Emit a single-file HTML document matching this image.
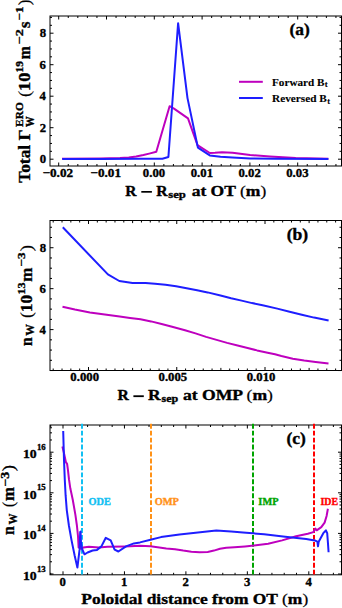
<!DOCTYPE html>
<html><head><meta charset="utf-8"><style>
html,body{margin:0;padding:0;background:#fff;width:342px;height:608px;overflow:hidden}
svg{display:block}
text{font-family:"Liberation Serif", serif;font-weight:bold;stroke-width:0.35px}
</style></head><body>
<svg width="342" height="608" viewBox="0 0 342 608">
<rect width="342" height="608" fill="#fff"/>
<rect x="50" y="16" width="291.5" height="150" fill="none" stroke="#000" stroke-width="1"/>
<line x1="58.7" y1="166" x2="58.7" y2="162.5" stroke="#000" stroke-width="1" />
<line x1="58.7" y1="16" x2="58.7" y2="19.5" stroke="#000" stroke-width="1" />
<line x1="68.26" y1="166" x2="68.26" y2="164" stroke="#000" stroke-width="1" />
<line x1="68.26" y1="16" x2="68.26" y2="18" stroke="#000" stroke-width="1" />
<line x1="77.82" y1="166" x2="77.82" y2="164" stroke="#000" stroke-width="1" />
<line x1="77.82" y1="16" x2="77.82" y2="18" stroke="#000" stroke-width="1" />
<line x1="87.38" y1="166" x2="87.38" y2="164" stroke="#000" stroke-width="1" />
<line x1="87.38" y1="16" x2="87.38" y2="18" stroke="#000" stroke-width="1" />
<line x1="96.94" y1="166" x2="96.94" y2="164" stroke="#000" stroke-width="1" />
<line x1="96.94" y1="16" x2="96.94" y2="18" stroke="#000" stroke-width="1" />
<line x1="106.5" y1="166" x2="106.5" y2="162.5" stroke="#000" stroke-width="1" />
<line x1="106.5" y1="16" x2="106.5" y2="19.5" stroke="#000" stroke-width="1" />
<line x1="116.06" y1="166" x2="116.06" y2="164" stroke="#000" stroke-width="1" />
<line x1="116.06" y1="16" x2="116.06" y2="18" stroke="#000" stroke-width="1" />
<line x1="125.62" y1="166" x2="125.62" y2="164" stroke="#000" stroke-width="1" />
<line x1="125.62" y1="16" x2="125.62" y2="18" stroke="#000" stroke-width="1" />
<line x1="135.18" y1="166" x2="135.18" y2="164" stroke="#000" stroke-width="1" />
<line x1="135.18" y1="16" x2="135.18" y2="18" stroke="#000" stroke-width="1" />
<line x1="144.74" y1="166" x2="144.74" y2="164" stroke="#000" stroke-width="1" />
<line x1="144.74" y1="16" x2="144.74" y2="18" stroke="#000" stroke-width="1" />
<line x1="154.3" y1="166" x2="154.3" y2="162.5" stroke="#000" stroke-width="1" />
<line x1="154.3" y1="16" x2="154.3" y2="19.5" stroke="#000" stroke-width="1" />
<line x1="163.86" y1="166" x2="163.86" y2="164" stroke="#000" stroke-width="1" />
<line x1="163.86" y1="16" x2="163.86" y2="18" stroke="#000" stroke-width="1" />
<line x1="173.42" y1="166" x2="173.42" y2="164" stroke="#000" stroke-width="1" />
<line x1="173.42" y1="16" x2="173.42" y2="18" stroke="#000" stroke-width="1" />
<line x1="182.98" y1="166" x2="182.98" y2="164" stroke="#000" stroke-width="1" />
<line x1="182.98" y1="16" x2="182.98" y2="18" stroke="#000" stroke-width="1" />
<line x1="192.54" y1="166" x2="192.54" y2="164" stroke="#000" stroke-width="1" />
<line x1="192.54" y1="16" x2="192.54" y2="18" stroke="#000" stroke-width="1" />
<line x1="202.1" y1="166" x2="202.1" y2="162.5" stroke="#000" stroke-width="1" />
<line x1="202.1" y1="16" x2="202.1" y2="19.5" stroke="#000" stroke-width="1" />
<line x1="211.66" y1="166" x2="211.66" y2="164" stroke="#000" stroke-width="1" />
<line x1="211.66" y1="16" x2="211.66" y2="18" stroke="#000" stroke-width="1" />
<line x1="221.22" y1="166" x2="221.22" y2="164" stroke="#000" stroke-width="1" />
<line x1="221.22" y1="16" x2="221.22" y2="18" stroke="#000" stroke-width="1" />
<line x1="230.78" y1="166" x2="230.78" y2="164" stroke="#000" stroke-width="1" />
<line x1="230.78" y1="16" x2="230.78" y2="18" stroke="#000" stroke-width="1" />
<line x1="240.34" y1="166" x2="240.34" y2="164" stroke="#000" stroke-width="1" />
<line x1="240.34" y1="16" x2="240.34" y2="18" stroke="#000" stroke-width="1" />
<line x1="249.9" y1="166" x2="249.9" y2="162.5" stroke="#000" stroke-width="1" />
<line x1="249.9" y1="16" x2="249.9" y2="19.5" stroke="#000" stroke-width="1" />
<line x1="259.46" y1="166" x2="259.46" y2="164" stroke="#000" stroke-width="1" />
<line x1="259.46" y1="16" x2="259.46" y2="18" stroke="#000" stroke-width="1" />
<line x1="269.02" y1="166" x2="269.02" y2="164" stroke="#000" stroke-width="1" />
<line x1="269.02" y1="16" x2="269.02" y2="18" stroke="#000" stroke-width="1" />
<line x1="278.58" y1="166" x2="278.58" y2="164" stroke="#000" stroke-width="1" />
<line x1="278.58" y1="16" x2="278.58" y2="18" stroke="#000" stroke-width="1" />
<line x1="288.14" y1="166" x2="288.14" y2="164" stroke="#000" stroke-width="1" />
<line x1="288.14" y1="16" x2="288.14" y2="18" stroke="#000" stroke-width="1" />
<line x1="297.7" y1="166" x2="297.7" y2="162.5" stroke="#000" stroke-width="1" />
<line x1="297.7" y1="16" x2="297.7" y2="19.5" stroke="#000" stroke-width="1" />
<line x1="307.26" y1="166" x2="307.26" y2="164" stroke="#000" stroke-width="1" />
<line x1="307.26" y1="16" x2="307.26" y2="18" stroke="#000" stroke-width="1" />
<line x1="316.82" y1="166" x2="316.82" y2="164" stroke="#000" stroke-width="1" />
<line x1="316.82" y1="16" x2="316.82" y2="18" stroke="#000" stroke-width="1" />
<line x1="326.38" y1="166" x2="326.38" y2="164" stroke="#000" stroke-width="1" />
<line x1="326.38" y1="16" x2="326.38" y2="18" stroke="#000" stroke-width="1" />
<line x1="335.94" y1="166" x2="335.94" y2="164" stroke="#000" stroke-width="1" />
<line x1="335.94" y1="16" x2="335.94" y2="18" stroke="#000" stroke-width="1" />
<line x1="50" y1="159.2" x2="53.5" y2="159.2" stroke="#000" stroke-width="1" />
<line x1="341.5" y1="159.2" x2="338" y2="159.2" stroke="#000" stroke-width="1" />
<line x1="50" y1="151.32" x2="52" y2="151.32" stroke="#000" stroke-width="1" />
<line x1="341.5" y1="151.32" x2="339.5" y2="151.32" stroke="#000" stroke-width="1" />
<line x1="50" y1="143.45" x2="52" y2="143.45" stroke="#000" stroke-width="1" />
<line x1="341.5" y1="143.45" x2="339.5" y2="143.45" stroke="#000" stroke-width="1" />
<line x1="50" y1="135.57" x2="52" y2="135.57" stroke="#000" stroke-width="1" />
<line x1="341.5" y1="135.57" x2="339.5" y2="135.57" stroke="#000" stroke-width="1" />
<line x1="50" y1="127.7" x2="53.5" y2="127.7" stroke="#000" stroke-width="1" />
<line x1="341.5" y1="127.7" x2="338" y2="127.7" stroke="#000" stroke-width="1" />
<line x1="50" y1="119.82" x2="52" y2="119.82" stroke="#000" stroke-width="1" />
<line x1="341.5" y1="119.82" x2="339.5" y2="119.82" stroke="#000" stroke-width="1" />
<line x1="50" y1="111.95" x2="52" y2="111.95" stroke="#000" stroke-width="1" />
<line x1="341.5" y1="111.95" x2="339.5" y2="111.95" stroke="#000" stroke-width="1" />
<line x1="50" y1="104.07" x2="52" y2="104.07" stroke="#000" stroke-width="1" />
<line x1="341.5" y1="104.07" x2="339.5" y2="104.07" stroke="#000" stroke-width="1" />
<line x1="50" y1="96.2" x2="53.5" y2="96.2" stroke="#000" stroke-width="1" />
<line x1="341.5" y1="96.2" x2="338" y2="96.2" stroke="#000" stroke-width="1" />
<line x1="50" y1="88.32" x2="52" y2="88.32" stroke="#000" stroke-width="1" />
<line x1="341.5" y1="88.32" x2="339.5" y2="88.32" stroke="#000" stroke-width="1" />
<line x1="50" y1="80.45" x2="52" y2="80.45" stroke="#000" stroke-width="1" />
<line x1="341.5" y1="80.45" x2="339.5" y2="80.45" stroke="#000" stroke-width="1" />
<line x1="50" y1="72.57" x2="52" y2="72.57" stroke="#000" stroke-width="1" />
<line x1="341.5" y1="72.57" x2="339.5" y2="72.57" stroke="#000" stroke-width="1" />
<line x1="50" y1="64.7" x2="53.5" y2="64.7" stroke="#000" stroke-width="1" />
<line x1="341.5" y1="64.7" x2="338" y2="64.7" stroke="#000" stroke-width="1" />
<line x1="50" y1="56.82" x2="52" y2="56.82" stroke="#000" stroke-width="1" />
<line x1="341.5" y1="56.82" x2="339.5" y2="56.82" stroke="#000" stroke-width="1" />
<line x1="50" y1="48.95" x2="52" y2="48.95" stroke="#000" stroke-width="1" />
<line x1="341.5" y1="48.95" x2="339.5" y2="48.95" stroke="#000" stroke-width="1" />
<line x1="50" y1="41.07" x2="52" y2="41.07" stroke="#000" stroke-width="1" />
<line x1="341.5" y1="41.07" x2="339.5" y2="41.07" stroke="#000" stroke-width="1" />
<line x1="50" y1="33.2" x2="53.5" y2="33.2" stroke="#000" stroke-width="1" />
<line x1="341.5" y1="33.2" x2="338" y2="33.2" stroke="#000" stroke-width="1" />
<line x1="50" y1="25.32" x2="52" y2="25.32" stroke="#000" stroke-width="1" />
<line x1="341.5" y1="25.32" x2="339.5" y2="25.32" stroke="#000" stroke-width="1" />
<line x1="50" y1="17.45" x2="52" y2="17.45" stroke="#000" stroke-width="1" />
<line x1="341.5" y1="17.45" x2="339.5" y2="17.45" stroke="#000" stroke-width="1" />
<text transform="translate(39.7,163.1) scale(1.0300,1)" font-size="12.4" fill="#000" stroke="#000" >0</text>
<text transform="translate(39.76,131.6) scale(1.0300,1)" font-size="12.4" fill="#000" stroke="#000" >2</text>
<text transform="translate(39.45,100.1) scale(1.0300,1)" font-size="12.4" fill="#000" stroke="#000" >4</text>
<text transform="translate(39.59,68.6) scale(1.0300,1)" font-size="12.4" fill="#000" stroke="#000" >6</text>
<text transform="translate(39.64,37.1) scale(1.0300,1)" font-size="12.4" fill="#000" stroke="#000" >8</text>
<text transform="translate(42.5,176.8) scale(1.0663,1)" font-size="12.4" fill="#000" stroke="#000" >−0.02</text>
<text transform="translate(90.36,176.8) scale(1.0664,1)" font-size="12.4" fill="#000" stroke="#000" >−0.01</text>
<text transform="translate(142.82,176.8) scale(1.0300,1)" font-size="12.4" fill="#000" stroke="#000" >0.00</text>
<text transform="translate(190.71,176.8) scale(1.0300,1)" font-size="12.4" fill="#000" stroke="#000" >0.01</text>
<text transform="translate(238.46,176.8) scale(1.0300,1)" font-size="12.4" fill="#000" stroke="#000" >0.02</text>
<text transform="translate(286.2,176.8) scale(1.0300,1)" font-size="12.4" fill="#000" stroke="#000" >0.03</text>
<polyline points="62,158.8 100,158.6 120,158.1 128.8,157.6 136.1,156.5 143.4,155 149.2,153.6 156.3,151.8 169.6,106.2 174,108.6 188,118.4 197.5,145.1 209.8,153 215,152.8 222,152.3 232.5,152.8 250.1,155 270,156.5 295.7,158 328.4,158.8" fill="none" stroke="#BE00BE" stroke-width="2" stroke-linejoin="round" stroke-linecap="butt"/>
<polyline points="62.3,158.9 100,158.9 140,158.8 162.4,158.7 168.4,157 178.1,23.2 187.5,98.1 197.9,147.6 209.8,155.4 220.5,156.8 232.5,157.6 250.1,158.4 275,158.8 328.4,159" fill="none" stroke="#1E1EFF" stroke-width="2" stroke-linejoin="round" stroke-linecap="butt"/>
<line x1="239" y1="81.8" x2="262.8" y2="81.8" stroke="#BE00BE" stroke-width="2" />
<line x1="239" y1="98" x2="262.8" y2="98" stroke="#1E1EFF" stroke-width="2" />
<text transform="translate(272.01,85.6) scale(1.0006,1)" font-size="11.2" fill="#000" stroke="#000" style="stroke-width:0.1px">Forward B</text>
<text transform="translate(324.76,87.4) scale(1.0286,1)" font-size="8.4" fill="#000" stroke="#000" style="stroke-width:0.1px">t</text>
<text transform="translate(272.01,101.9) scale(1.0069,1)" font-size="11.2" fill="#000" stroke="#000" style="stroke-width:0.1px">Reversed B</text>
<text transform="translate(327.27,103.5) scale(0.9905,1)" font-size="8.4" fill="#000" stroke="#000" style="stroke-width:0.1px">t</text>
<text transform="translate(289.43,35.3) scale(1.0899,1)" font-size="16" fill="#000" stroke="#000" >(a)</text>
<text transform="translate(125.33,196.3) scale(1.0163,1)" font-size="15.3" fill="#000" stroke="#000" >R</text>
<rect x="141.3" y="191" width="10.6" height="1.7" fill="#000"/>
<text transform="translate(156.13,196.3) scale(1.0254,1)" font-size="15.3" fill="#000" stroke="#000" >R</text>
<text transform="translate(168.22,198.3) scale(1.1729,1)" font-size="10.8" fill="#000" stroke="#000" >sep</text>
<text transform="translate(191.64,196.3) scale(1.1452,1)" font-size="15.3" fill="#000" stroke="#000" >at OT <tspan font-weight="normal" stroke-width="0.2">(</tspan>m<tspan font-weight="normal" stroke-width="0.2">)</tspan></text>
<text transform="translate(30.2,182.77) rotate(-90) scale(1.0455,1)" font-size="16.6" fill="#000" stroke="#000">Total Γ</text>
<text transform="translate(23.3,127) rotate(-90) scale(1.0062,1)" font-size="11.4" fill="#000" stroke="#000">ERO</text>
<text transform="translate(34.3,126.95) rotate(-90) scale(0.9084,1)" font-size="11.8" fill="#000" stroke="#000">W</text>
<text transform="translate(30.2,97.11) rotate(-90) scale(1.1076,1)" font-size="16.6" fill="#000" stroke="#000"><tspan font-weight="normal" stroke-width="0.2">(</tspan>10</text>
<text transform="translate(23.3,72.62) rotate(-90) scale(1.0124,1)" font-size="11.4" fill="#000" stroke="#000">19</text>
<text transform="translate(30.2,59.32) rotate(-90) scale(0.9390,1)" font-size="16.6" fill="#000" stroke="#000">m</text>
<text transform="translate(23.3,44.25) rotate(-90) scale(1.2427,1)" font-size="11.4" fill="#000" stroke="#000">−2</text>
<text transform="translate(30.2,28.11) rotate(-90) scale(1.0086,1)" font-size="16.6" fill="#000" stroke="#000">s</text>
<text transform="translate(23.3,20.17) rotate(-90) scale(1.1177,1)" font-size="11.4" fill="#000" stroke="#000">−1</text>
<text transform="translate(30.2,5.14) rotate(-90) scale(1.0086,1)" font-size="16.6" fill="#000" stroke="#000"><tspan font-weight="normal" stroke-width="0.2">)</tspan></text>
<rect x="50" y="220.5" width="291.5" height="150" fill="none" stroke="#000" stroke-width="1"/>
<line x1="53.2" y1="370.5" x2="53.2" y2="368.5" stroke="#000" stroke-width="1" />
<line x1="53.2" y1="220.5" x2="53.2" y2="222.5" stroke="#000" stroke-width="1" />
<line x1="62.02" y1="370.5" x2="62.02" y2="368.5" stroke="#000" stroke-width="1" />
<line x1="62.02" y1="220.5" x2="62.02" y2="222.5" stroke="#000" stroke-width="1" />
<line x1="70.85" y1="370.5" x2="70.85" y2="368.5" stroke="#000" stroke-width="1" />
<line x1="70.85" y1="220.5" x2="70.85" y2="222.5" stroke="#000" stroke-width="1" />
<line x1="79.67" y1="370.5" x2="79.67" y2="368.5" stroke="#000" stroke-width="1" />
<line x1="79.67" y1="220.5" x2="79.67" y2="222.5" stroke="#000" stroke-width="1" />
<line x1="88.5" y1="370.5" x2="88.5" y2="367" stroke="#000" stroke-width="1" />
<line x1="88.5" y1="220.5" x2="88.5" y2="224" stroke="#000" stroke-width="1" />
<line x1="97.33" y1="370.5" x2="97.33" y2="368.5" stroke="#000" stroke-width="1" />
<line x1="97.33" y1="220.5" x2="97.33" y2="222.5" stroke="#000" stroke-width="1" />
<line x1="106.15" y1="370.5" x2="106.15" y2="368.5" stroke="#000" stroke-width="1" />
<line x1="106.15" y1="220.5" x2="106.15" y2="222.5" stroke="#000" stroke-width="1" />
<line x1="114.97" y1="370.5" x2="114.97" y2="368.5" stroke="#000" stroke-width="1" />
<line x1="114.97" y1="220.5" x2="114.97" y2="222.5" stroke="#000" stroke-width="1" />
<line x1="123.8" y1="370.5" x2="123.8" y2="368.5" stroke="#000" stroke-width="1" />
<line x1="123.8" y1="220.5" x2="123.8" y2="222.5" stroke="#000" stroke-width="1" />
<line x1="132.62" y1="370.5" x2="132.62" y2="367.9" stroke="#000" stroke-width="1" />
<line x1="132.62" y1="220.5" x2="132.62" y2="223.1" stroke="#000" stroke-width="1" />
<line x1="141.45" y1="370.5" x2="141.45" y2="368.5" stroke="#000" stroke-width="1" />
<line x1="141.45" y1="220.5" x2="141.45" y2="222.5" stroke="#000" stroke-width="1" />
<line x1="150.28" y1="370.5" x2="150.28" y2="368.5" stroke="#000" stroke-width="1" />
<line x1="150.28" y1="220.5" x2="150.28" y2="222.5" stroke="#000" stroke-width="1" />
<line x1="159.1" y1="370.5" x2="159.1" y2="368.5" stroke="#000" stroke-width="1" />
<line x1="159.1" y1="220.5" x2="159.1" y2="222.5" stroke="#000" stroke-width="1" />
<line x1="167.93" y1="370.5" x2="167.93" y2="368.5" stroke="#000" stroke-width="1" />
<line x1="167.93" y1="220.5" x2="167.93" y2="222.5" stroke="#000" stroke-width="1" />
<line x1="176.75" y1="370.5" x2="176.75" y2="367" stroke="#000" stroke-width="1" />
<line x1="176.75" y1="220.5" x2="176.75" y2="224" stroke="#000" stroke-width="1" />
<line x1="185.57" y1="370.5" x2="185.57" y2="368.5" stroke="#000" stroke-width="1" />
<line x1="185.57" y1="220.5" x2="185.57" y2="222.5" stroke="#000" stroke-width="1" />
<line x1="194.4" y1="370.5" x2="194.4" y2="368.5" stroke="#000" stroke-width="1" />
<line x1="194.4" y1="220.5" x2="194.4" y2="222.5" stroke="#000" stroke-width="1" />
<line x1="203.23" y1="370.5" x2="203.23" y2="368.5" stroke="#000" stroke-width="1" />
<line x1="203.23" y1="220.5" x2="203.23" y2="222.5" stroke="#000" stroke-width="1" />
<line x1="212.05" y1="370.5" x2="212.05" y2="368.5" stroke="#000" stroke-width="1" />
<line x1="212.05" y1="220.5" x2="212.05" y2="222.5" stroke="#000" stroke-width="1" />
<line x1="220.88" y1="370.5" x2="220.88" y2="367.9" stroke="#000" stroke-width="1" />
<line x1="220.88" y1="220.5" x2="220.88" y2="223.1" stroke="#000" stroke-width="1" />
<line x1="229.7" y1="370.5" x2="229.7" y2="368.5" stroke="#000" stroke-width="1" />
<line x1="229.7" y1="220.5" x2="229.7" y2="222.5" stroke="#000" stroke-width="1" />
<line x1="238.53" y1="370.5" x2="238.53" y2="368.5" stroke="#000" stroke-width="1" />
<line x1="238.53" y1="220.5" x2="238.53" y2="222.5" stroke="#000" stroke-width="1" />
<line x1="247.35" y1="370.5" x2="247.35" y2="368.5" stroke="#000" stroke-width="1" />
<line x1="247.35" y1="220.5" x2="247.35" y2="222.5" stroke="#000" stroke-width="1" />
<line x1="256.17" y1="370.5" x2="256.17" y2="368.5" stroke="#000" stroke-width="1" />
<line x1="256.17" y1="220.5" x2="256.17" y2="222.5" stroke="#000" stroke-width="1" />
<line x1="265" y1="370.5" x2="265" y2="367" stroke="#000" stroke-width="1" />
<line x1="265" y1="220.5" x2="265" y2="224" stroke="#000" stroke-width="1" />
<line x1="273.83" y1="370.5" x2="273.83" y2="368.5" stroke="#000" stroke-width="1" />
<line x1="273.83" y1="220.5" x2="273.83" y2="222.5" stroke="#000" stroke-width="1" />
<line x1="282.65" y1="370.5" x2="282.65" y2="368.5" stroke="#000" stroke-width="1" />
<line x1="282.65" y1="220.5" x2="282.65" y2="222.5" stroke="#000" stroke-width="1" />
<line x1="291.48" y1="370.5" x2="291.48" y2="368.5" stroke="#000" stroke-width="1" />
<line x1="291.48" y1="220.5" x2="291.48" y2="222.5" stroke="#000" stroke-width="1" />
<line x1="300.3" y1="370.5" x2="300.3" y2="368.5" stroke="#000" stroke-width="1" />
<line x1="300.3" y1="220.5" x2="300.3" y2="222.5" stroke="#000" stroke-width="1" />
<line x1="309.12" y1="370.5" x2="309.12" y2="367.9" stroke="#000" stroke-width="1" />
<line x1="309.12" y1="220.5" x2="309.12" y2="223.1" stroke="#000" stroke-width="1" />
<line x1="317.95" y1="370.5" x2="317.95" y2="368.5" stroke="#000" stroke-width="1" />
<line x1="317.95" y1="220.5" x2="317.95" y2="222.5" stroke="#000" stroke-width="1" />
<line x1="326.77" y1="370.5" x2="326.77" y2="368.5" stroke="#000" stroke-width="1" />
<line x1="326.77" y1="220.5" x2="326.77" y2="222.5" stroke="#000" stroke-width="1" />
<line x1="335.6" y1="370.5" x2="335.6" y2="368.5" stroke="#000" stroke-width="1" />
<line x1="335.6" y1="220.5" x2="335.6" y2="222.5" stroke="#000" stroke-width="1" />
<line x1="50" y1="370.54" x2="53.5" y2="370.54" stroke="#000" stroke-width="1" />
<line x1="341.5" y1="370.54" x2="338" y2="370.54" stroke="#000" stroke-width="1" />
<line x1="50" y1="360.31" x2="52" y2="360.31" stroke="#000" stroke-width="1" />
<line x1="341.5" y1="360.31" x2="339.5" y2="360.31" stroke="#000" stroke-width="1" />
<line x1="50" y1="350.07" x2="52" y2="350.07" stroke="#000" stroke-width="1" />
<line x1="341.5" y1="350.07" x2="339.5" y2="350.07" stroke="#000" stroke-width="1" />
<line x1="50" y1="339.84" x2="52" y2="339.84" stroke="#000" stroke-width="1" />
<line x1="341.5" y1="339.84" x2="339.5" y2="339.84" stroke="#000" stroke-width="1" />
<line x1="50" y1="329.6" x2="53.5" y2="329.6" stroke="#000" stroke-width="1" />
<line x1="341.5" y1="329.6" x2="338" y2="329.6" stroke="#000" stroke-width="1" />
<line x1="50" y1="319.37" x2="52" y2="319.37" stroke="#000" stroke-width="1" />
<line x1="341.5" y1="319.37" x2="339.5" y2="319.37" stroke="#000" stroke-width="1" />
<line x1="50" y1="309.13" x2="52" y2="309.13" stroke="#000" stroke-width="1" />
<line x1="341.5" y1="309.13" x2="339.5" y2="309.13" stroke="#000" stroke-width="1" />
<line x1="50" y1="298.9" x2="52" y2="298.9" stroke="#000" stroke-width="1" />
<line x1="341.5" y1="298.9" x2="339.5" y2="298.9" stroke="#000" stroke-width="1" />
<line x1="50" y1="288.66" x2="53.5" y2="288.66" stroke="#000" stroke-width="1" />
<line x1="341.5" y1="288.66" x2="338" y2="288.66" stroke="#000" stroke-width="1" />
<line x1="50" y1="278.43" x2="52" y2="278.43" stroke="#000" stroke-width="1" />
<line x1="341.5" y1="278.43" x2="339.5" y2="278.43" stroke="#000" stroke-width="1" />
<line x1="50" y1="268.19" x2="52" y2="268.19" stroke="#000" stroke-width="1" />
<line x1="341.5" y1="268.19" x2="339.5" y2="268.19" stroke="#000" stroke-width="1" />
<line x1="50" y1="257.96" x2="52" y2="257.96" stroke="#000" stroke-width="1" />
<line x1="341.5" y1="257.96" x2="339.5" y2="257.96" stroke="#000" stroke-width="1" />
<line x1="50" y1="247.72" x2="53.5" y2="247.72" stroke="#000" stroke-width="1" />
<line x1="341.5" y1="247.72" x2="338" y2="247.72" stroke="#000" stroke-width="1" />
<line x1="50" y1="237.49" x2="52" y2="237.49" stroke="#000" stroke-width="1" />
<line x1="341.5" y1="237.49" x2="339.5" y2="237.49" stroke="#000" stroke-width="1" />
<line x1="50" y1="227.25" x2="52" y2="227.25" stroke="#000" stroke-width="1" />
<line x1="341.5" y1="227.25" x2="339.5" y2="227.25" stroke="#000" stroke-width="1" />
<text transform="translate(39.45,333.6) scale(1.0300,1)" font-size="12.4" fill="#000" stroke="#000" >4</text>
<text transform="translate(39.59,292.66) scale(1.0300,1)" font-size="12.4" fill="#000" stroke="#000" >6</text>
<text transform="translate(39.64,251.72) scale(1.0300,1)" font-size="12.4" fill="#000" stroke="#000" >8</text>
<text transform="translate(70.33,381.3) scale(1.0300,1)" font-size="12.4" fill="#000" stroke="#000" >0.000</text>
<text transform="translate(158.52,381.3) scale(1.0300,1)" font-size="12.4" fill="#000" stroke="#000" >0.005</text>
<text transform="translate(246.73,381.3) scale(1.0300,1)" font-size="12.4" fill="#000" stroke="#000" >0.010</text>
<polyline points="62.5,306.7 74.9,309.5 89.9,312.4 104.8,314.4 119.7,316.4 130,317.9 140.5,319.3 151.1,321.4 161.6,324 172.1,326.7 185,330.3 195.5,333.4 206.1,336.9 216.6,339.9 227.1,342.9 237.6,345.5 246.6,347.8 257.1,350.4 267.6,352.7 275,354.3 281.4,356 292.8,358.7 304.2,360.6 315.6,362.1 328.5,363.6" fill="none" stroke="#BE00BE" stroke-width="2" stroke-linejoin="round" stroke-linecap="butt"/>
<polyline points="62.8,227.3 107.9,274.4 119.3,281 132.5,282.9 145.6,282.9 155,283.8 165.5,284.7 176.1,286.2 186.6,288.2 197.1,290.3 207.6,292.4 220.5,295.5 231.1,298.2 241.6,300.6 252.1,303.1 262.6,305.2 277.3,308.6 289.6,311.7 301.8,314.7 314.1,317.6 328.6,320.6" fill="none" stroke="#1E1EFF" stroke-width="2" stroke-linejoin="round" stroke-linecap="butt"/>
<text transform="translate(286.63,239.5) scale(1.1020,1)" font-size="16" fill="#000" stroke="#000" >(b)</text>
<text transform="translate(117.53,400.2) scale(1.0254,1)" font-size="15.3" fill="#000" stroke="#000" >R</text>
<rect x="133.4" y="395.3" width="10.4" height="1.8" fill="#000"/>
<text transform="translate(148.1,400.2) scale(1.1445,1)" font-size="15.3" fill="#000" stroke="#000" >R</text>
<text transform="translate(161.54,402) scale(1.1097,1)" font-size="10.8" fill="#000" stroke="#000" >sep</text>
<text transform="translate(182.93,400.2) scale(1.1522,1)" font-size="15.3" fill="#000" stroke="#000" >at OMP <tspan font-weight="normal" stroke-width="0.2">(</tspan>m<tspan font-weight="normal" stroke-width="0.2">)</tspan></text>
<text transform="translate(31.8,345.92) rotate(-90) scale(0.9373,1)" font-size="16.6" fill="#000" stroke="#000">n</text>
<text transform="translate(33.8,335.87) rotate(-90) scale(0.9792,1)" font-size="12" fill="#000" stroke="#000">W</text>
<text transform="translate(31.6,317.96) rotate(-90) scale(1.0402,1)" font-size="16.6" fill="#000" stroke="#000"><tspan font-weight="normal" stroke-width="0.2">(</tspan>10</text>
<text transform="translate(24.5,294.48) rotate(-90) scale(1.0696,1)" font-size="11.4" fill="#000" stroke="#000">13</text>
<text transform="translate(31.6,281.66) rotate(-90) scale(1.0230,1)" font-size="16.6" fill="#000" stroke="#000">m</text>
<text transform="translate(25,266.39) rotate(-90) scale(1.1513,1)" font-size="11.4" fill="#000" stroke="#000">−3</text>
<text transform="translate(31.6,251.31) rotate(-90) scale(1.1493,1)" font-size="16.6" fill="#000" stroke="#000"><tspan font-weight="normal" stroke-width="0.2">)</tspan></text>
<rect x="50" y="425" width="291.5" height="149.8" fill="none" stroke="#000" stroke-width="1"/>
<line x1="50.71" y1="574.8" x2="50.71" y2="572.8" stroke="#000" stroke-width="1" />
<line x1="50.71" y1="425" x2="50.71" y2="427" stroke="#000" stroke-width="1" />
<line x1="63" y1="574.8" x2="63" y2="571.3" stroke="#000" stroke-width="1" />
<line x1="63" y1="425" x2="63" y2="428.5" stroke="#000" stroke-width="1" />
<line x1="75.29" y1="574.8" x2="75.29" y2="572.8" stroke="#000" stroke-width="1" />
<line x1="75.29" y1="425" x2="75.29" y2="427" stroke="#000" stroke-width="1" />
<line x1="87.58" y1="574.8" x2="87.58" y2="572.8" stroke="#000" stroke-width="1" />
<line x1="87.58" y1="425" x2="87.58" y2="427" stroke="#000" stroke-width="1" />
<line x1="99.87" y1="574.8" x2="99.87" y2="572.8" stroke="#000" stroke-width="1" />
<line x1="99.87" y1="425" x2="99.87" y2="427" stroke="#000" stroke-width="1" />
<line x1="112.16" y1="574.8" x2="112.16" y2="572.8" stroke="#000" stroke-width="1" />
<line x1="112.16" y1="425" x2="112.16" y2="427" stroke="#000" stroke-width="1" />
<line x1="124.45" y1="574.8" x2="124.45" y2="571.3" stroke="#000" stroke-width="1" />
<line x1="124.45" y1="425" x2="124.45" y2="428.5" stroke="#000" stroke-width="1" />
<line x1="136.74" y1="574.8" x2="136.74" y2="572.8" stroke="#000" stroke-width="1" />
<line x1="136.74" y1="425" x2="136.74" y2="427" stroke="#000" stroke-width="1" />
<line x1="149.03" y1="574.8" x2="149.03" y2="572.8" stroke="#000" stroke-width="1" />
<line x1="149.03" y1="425" x2="149.03" y2="427" stroke="#000" stroke-width="1" />
<line x1="161.32" y1="574.8" x2="161.32" y2="572.8" stroke="#000" stroke-width="1" />
<line x1="161.32" y1="425" x2="161.32" y2="427" stroke="#000" stroke-width="1" />
<line x1="173.61" y1="574.8" x2="173.61" y2="572.8" stroke="#000" stroke-width="1" />
<line x1="173.61" y1="425" x2="173.61" y2="427" stroke="#000" stroke-width="1" />
<line x1="185.9" y1="574.8" x2="185.9" y2="571.3" stroke="#000" stroke-width="1" />
<line x1="185.9" y1="425" x2="185.9" y2="428.5" stroke="#000" stroke-width="1" />
<line x1="198.19" y1="574.8" x2="198.19" y2="572.8" stroke="#000" stroke-width="1" />
<line x1="198.19" y1="425" x2="198.19" y2="427" stroke="#000" stroke-width="1" />
<line x1="210.48" y1="574.8" x2="210.48" y2="572.8" stroke="#000" stroke-width="1" />
<line x1="210.48" y1="425" x2="210.48" y2="427" stroke="#000" stroke-width="1" />
<line x1="222.77" y1="574.8" x2="222.77" y2="572.8" stroke="#000" stroke-width="1" />
<line x1="222.77" y1="425" x2="222.77" y2="427" stroke="#000" stroke-width="1" />
<line x1="235.06" y1="574.8" x2="235.06" y2="572.8" stroke="#000" stroke-width="1" />
<line x1="235.06" y1="425" x2="235.06" y2="427" stroke="#000" stroke-width="1" />
<line x1="247.35" y1="574.8" x2="247.35" y2="571.3" stroke="#000" stroke-width="1" />
<line x1="247.35" y1="425" x2="247.35" y2="428.5" stroke="#000" stroke-width="1" />
<line x1="259.64" y1="574.8" x2="259.64" y2="572.8" stroke="#000" stroke-width="1" />
<line x1="259.64" y1="425" x2="259.64" y2="427" stroke="#000" stroke-width="1" />
<line x1="271.93" y1="574.8" x2="271.93" y2="572.8" stroke="#000" stroke-width="1" />
<line x1="271.93" y1="425" x2="271.93" y2="427" stroke="#000" stroke-width="1" />
<line x1="284.22" y1="574.8" x2="284.22" y2="572.8" stroke="#000" stroke-width="1" />
<line x1="284.22" y1="425" x2="284.22" y2="427" stroke="#000" stroke-width="1" />
<line x1="296.51" y1="574.8" x2="296.51" y2="572.8" stroke="#000" stroke-width="1" />
<line x1="296.51" y1="425" x2="296.51" y2="427" stroke="#000" stroke-width="1" />
<line x1="308.8" y1="574.8" x2="308.8" y2="571.3" stroke="#000" stroke-width="1" />
<line x1="308.8" y1="425" x2="308.8" y2="428.5" stroke="#000" stroke-width="1" />
<line x1="321.09" y1="574.8" x2="321.09" y2="572.8" stroke="#000" stroke-width="1" />
<line x1="321.09" y1="425" x2="321.09" y2="427" stroke="#000" stroke-width="1" />
<line x1="333.38" y1="574.8" x2="333.38" y2="572.8" stroke="#000" stroke-width="1" />
<line x1="333.38" y1="425" x2="333.38" y2="427" stroke="#000" stroke-width="1" />
<line x1="50" y1="574" x2="53.5" y2="574" stroke="#000" stroke-width="1" />
<line x1="341.5" y1="574" x2="338" y2="574" stroke="#000" stroke-width="1" />
<line x1="50" y1="561.78" x2="52" y2="561.78" stroke="#000" stroke-width="1" />
<line x1="341.5" y1="561.78" x2="339.5" y2="561.78" stroke="#000" stroke-width="1" />
<line x1="50" y1="554.63" x2="52" y2="554.63" stroke="#000" stroke-width="1" />
<line x1="341.5" y1="554.63" x2="339.5" y2="554.63" stroke="#000" stroke-width="1" />
<line x1="50" y1="549.56" x2="52" y2="549.56" stroke="#000" stroke-width="1" />
<line x1="341.5" y1="549.56" x2="339.5" y2="549.56" stroke="#000" stroke-width="1" />
<line x1="50" y1="545.62" x2="52" y2="545.62" stroke="#000" stroke-width="1" />
<line x1="341.5" y1="545.62" x2="339.5" y2="545.62" stroke="#000" stroke-width="1" />
<line x1="50" y1="542.41" x2="52" y2="542.41" stroke="#000" stroke-width="1" />
<line x1="341.5" y1="542.41" x2="339.5" y2="542.41" stroke="#000" stroke-width="1" />
<line x1="50" y1="539.69" x2="52" y2="539.69" stroke="#000" stroke-width="1" />
<line x1="341.5" y1="539.69" x2="339.5" y2="539.69" stroke="#000" stroke-width="1" />
<line x1="50" y1="537.33" x2="52" y2="537.33" stroke="#000" stroke-width="1" />
<line x1="341.5" y1="537.33" x2="339.5" y2="537.33" stroke="#000" stroke-width="1" />
<line x1="50" y1="535.26" x2="52" y2="535.26" stroke="#000" stroke-width="1" />
<line x1="341.5" y1="535.26" x2="339.5" y2="535.26" stroke="#000" stroke-width="1" />
<line x1="50" y1="533.4" x2="53.5" y2="533.4" stroke="#000" stroke-width="1" />
<line x1="341.5" y1="533.4" x2="338" y2="533.4" stroke="#000" stroke-width="1" />
<line x1="50" y1="521.18" x2="52" y2="521.18" stroke="#000" stroke-width="1" />
<line x1="341.5" y1="521.18" x2="339.5" y2="521.18" stroke="#000" stroke-width="1" />
<line x1="50" y1="514.03" x2="52" y2="514.03" stroke="#000" stroke-width="1" />
<line x1="341.5" y1="514.03" x2="339.5" y2="514.03" stroke="#000" stroke-width="1" />
<line x1="50" y1="508.96" x2="52" y2="508.96" stroke="#000" stroke-width="1" />
<line x1="341.5" y1="508.96" x2="339.5" y2="508.96" stroke="#000" stroke-width="1" />
<line x1="50" y1="505.02" x2="52" y2="505.02" stroke="#000" stroke-width="1" />
<line x1="341.5" y1="505.02" x2="339.5" y2="505.02" stroke="#000" stroke-width="1" />
<line x1="50" y1="501.81" x2="52" y2="501.81" stroke="#000" stroke-width="1" />
<line x1="341.5" y1="501.81" x2="339.5" y2="501.81" stroke="#000" stroke-width="1" />
<line x1="50" y1="499.09" x2="52" y2="499.09" stroke="#000" stroke-width="1" />
<line x1="341.5" y1="499.09" x2="339.5" y2="499.09" stroke="#000" stroke-width="1" />
<line x1="50" y1="496.73" x2="52" y2="496.73" stroke="#000" stroke-width="1" />
<line x1="341.5" y1="496.73" x2="339.5" y2="496.73" stroke="#000" stroke-width="1" />
<line x1="50" y1="494.66" x2="52" y2="494.66" stroke="#000" stroke-width="1" />
<line x1="341.5" y1="494.66" x2="339.5" y2="494.66" stroke="#000" stroke-width="1" />
<line x1="50" y1="492.8" x2="53.5" y2="492.8" stroke="#000" stroke-width="1" />
<line x1="341.5" y1="492.8" x2="338" y2="492.8" stroke="#000" stroke-width="1" />
<line x1="50" y1="480.58" x2="52" y2="480.58" stroke="#000" stroke-width="1" />
<line x1="341.5" y1="480.58" x2="339.5" y2="480.58" stroke="#000" stroke-width="1" />
<line x1="50" y1="473.43" x2="52" y2="473.43" stroke="#000" stroke-width="1" />
<line x1="341.5" y1="473.43" x2="339.5" y2="473.43" stroke="#000" stroke-width="1" />
<line x1="50" y1="468.36" x2="52" y2="468.36" stroke="#000" stroke-width="1" />
<line x1="341.5" y1="468.36" x2="339.5" y2="468.36" stroke="#000" stroke-width="1" />
<line x1="50" y1="464.42" x2="52" y2="464.42" stroke="#000" stroke-width="1" />
<line x1="341.5" y1="464.42" x2="339.5" y2="464.42" stroke="#000" stroke-width="1" />
<line x1="50" y1="461.21" x2="52" y2="461.21" stroke="#000" stroke-width="1" />
<line x1="341.5" y1="461.21" x2="339.5" y2="461.21" stroke="#000" stroke-width="1" />
<line x1="50" y1="458.49" x2="52" y2="458.49" stroke="#000" stroke-width="1" />
<line x1="341.5" y1="458.49" x2="339.5" y2="458.49" stroke="#000" stroke-width="1" />
<line x1="50" y1="456.13" x2="52" y2="456.13" stroke="#000" stroke-width="1" />
<line x1="341.5" y1="456.13" x2="339.5" y2="456.13" stroke="#000" stroke-width="1" />
<line x1="50" y1="454.06" x2="52" y2="454.06" stroke="#000" stroke-width="1" />
<line x1="341.5" y1="454.06" x2="339.5" y2="454.06" stroke="#000" stroke-width="1" />
<line x1="50" y1="452.2" x2="53.5" y2="452.2" stroke="#000" stroke-width="1" />
<line x1="341.5" y1="452.2" x2="338" y2="452.2" stroke="#000" stroke-width="1" />
<line x1="50" y1="439.98" x2="52" y2="439.98" stroke="#000" stroke-width="1" />
<line x1="341.5" y1="439.98" x2="339.5" y2="439.98" stroke="#000" stroke-width="1" />
<line x1="50" y1="432.83" x2="52" y2="432.83" stroke="#000" stroke-width="1" />
<line x1="341.5" y1="432.83" x2="339.5" y2="432.83" stroke="#000" stroke-width="1" />
<line x1="50" y1="427.76" x2="52" y2="427.76" stroke="#000" stroke-width="1" />
<line x1="341.5" y1="427.76" x2="339.5" y2="427.76" stroke="#000" stroke-width="1" />
<text transform="translate(22.89,579.9) scale(1.0725,1)" font-size="12.9" fill="#000" stroke="#000" >10</text>
<text transform="translate(36.89,571.6) scale(1.0484,1)" font-size="8.4" fill="#000" stroke="#000" >13</text>
<text transform="translate(22.89,539.3) scale(1.0725,1)" font-size="12.9" fill="#000" stroke="#000" >10</text>
<text transform="translate(36.91,531) scale(1.0302,1)" font-size="8.4" fill="#000" stroke="#000" >14</text>
<text transform="translate(22.89,498.7) scale(1.0725,1)" font-size="12.9" fill="#000" stroke="#000" >10</text>
<text transform="translate(36.89,490.4) scale(1.0513,1)" font-size="8.4" fill="#000" stroke="#000" >15</text>
<text transform="translate(22.89,458.1) scale(1.0725,1)" font-size="12.9" fill="#000" stroke="#000" >10</text>
<text transform="translate(36.9,449.8) scale(1.0426,1)" font-size="8.4" fill="#000" stroke="#000" >16</text>
<text transform="translate(59.61,585.8) scale(1.0300,1)" font-size="12.4" fill="#000" stroke="#000" >0</text>
<text transform="translate(120.88,585.8) scale(1.0300,1)" font-size="12.4" fill="#000" stroke="#000" >1</text>
<text transform="translate(182.51,585.8) scale(1.0300,1)" font-size="12.4" fill="#000" stroke="#000" >2</text>
<text transform="translate(243.94,585.8) scale(1.0300,1)" font-size="12.4" fill="#000" stroke="#000" >3</text>
<text transform="translate(305.44,585.8) scale(1.0300,1)" font-size="12.4" fill="#000" stroke="#000" >4</text>
<line x1="82.0" y1="423.75" x2="82.0" y2="575" stroke="#12C0F2" stroke-width="2" stroke-dasharray="4.9 2.05"/>
<line x1="151.0" y1="423.75" x2="151.0" y2="575" stroke="#FF9218" stroke-width="2" stroke-dasharray="4.9 2.05"/>
<line x1="253.0" y1="423.75" x2="253.0" y2="575" stroke="#00A400" stroke-width="2" stroke-dasharray="4.9 2.05"/>
<line x1="314.0" y1="423.75" x2="314.0" y2="575" stroke="#FF0000" stroke-width="2" stroke-dasharray="4.9 2.05"/>
<text transform="translate(88.5,504.5) scale(1.0103,1)" font-size="10.2" fill="#12C0F2" stroke="#12C0F2" >ODE</text>
<text transform="translate(154.69,504.5) scale(1.0215,1)" font-size="10.2" fill="#FF9218" stroke="#FF9218" >OMP</text>
<text transform="translate(258.35,504.5) scale(1.0159,1)" font-size="10.2" fill="#00A400" stroke="#00A400" >IMP</text>
<text transform="translate(320.47,504.5) scale(0.9727,1)" font-size="10.2" fill="#FF0000" stroke="#FF0000" >IDE</text>
<polyline points="62.4,446.4 63.9,452.8 65.9,462.2 67.1,463.9 67.9,469.6 69,479.4 70.3,488.3 71.8,495.2 72.8,500 75.4,514.8 76.9,525.5 78,536 78.6,547.5 79.6,544.4 80.8,548.8 83.3,547.5 88.9,546.7 98.8,547.5 107.5,546.8 125.1,546.4 140,545.8 150.5,546.3 166.3,548.4 175,549.2 183.2,550.6 191.4,551.7 199.6,552.3 207.7,551.9 213.9,550.6 220,548.8 226.2,547.8 234.4,547.2 245,546.4 254,545.6 268.1,543.7 282.1,540.4 296.1,536.2 307.8,533.7 313.4,532.1 315.4,528.6 316.7,530.3 321.3,527.2 324.6,522.6 326.6,516 327.9,508.8" fill="none" stroke="#BE00BE" stroke-width="2" stroke-linejoin="round" stroke-linecap="butt"/>
<polyline points="63.2,431 64,460 64.8,480 65.6,495.2 66.8,510.3 68.9,525.5 71.6,540.6 74.7,555.8 77.4,567.6 79.6,549.4 80.2,532.1 80.6,531.5 80.8,540.7 82.1,548.8 84.5,554.3 87.6,552.5 92.6,550.5 97,549.9 101.4,546.4 105.8,537.8 110.7,540.4 114.6,549.6 118.4,551.5 126,546.4 133.9,543.4 140,542.4 150.5,539.7 161,537.1 179.5,534.5 197.9,532.6 216.3,530.5 231.2,531.5 243,532.5 264.1,534.3 285.2,536.8 306.2,538.9 314.7,540.4 317.4,541.7 318,546.3 318.7,541.7 323.3,533.2 325.9,530.3 327.2,533.2 327.9,542.4 328.6,552.2" fill="none" stroke="#1E1EFF" stroke-width="2" stroke-linejoin="round" stroke-linecap="butt"/>
<text transform="translate(286.43,443.8) scale(1.0886,1)" font-size="16" fill="#000" stroke="#000" >(c)</text>
<text transform="translate(81.3,603.8) scale(1.1325,1)" font-size="15.4" fill="#000" stroke="#000" >Poloidal distance from OT <tspan font-weight="normal" stroke-width="0.2">(</tspan>m<tspan font-weight="normal" stroke-width="0.2">)</tspan></text>
<text transform="translate(14.4,535.02) rotate(-90) scale(0.9490,1)" font-size="16.6" fill="#000" stroke="#000">n</text>
<text transform="translate(17.3,524.56) rotate(-90) scale(0.9040,1)" font-size="12.2" fill="#000" stroke="#000">W</text>
<text transform="translate(14.3,507.14) rotate(-90) scale(1.0086,1)" font-size="16.6" fill="#000" stroke="#000"><tspan font-weight="normal" stroke-width="0.2">(</tspan></text>
<text transform="translate(14.3,500.95) rotate(-90) scale(1.0001,1)" font-size="16.6" fill="#000" stroke="#000">m</text>
<text transform="translate(8.6,486.53) rotate(-90) scale(1.1928,1)" font-size="11.6" fill="#000" stroke="#000">−3</text>
<text transform="translate(14.3,471.2) rotate(-90) scale(1.1258,1)" font-size="16.6" fill="#000" stroke="#000"><tspan font-weight="normal" stroke-width="0.2">)</tspan></text>
</svg>
</body></html>
